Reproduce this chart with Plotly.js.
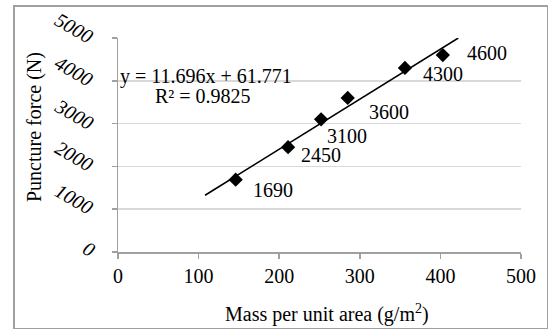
<!DOCTYPE html>
<html><head><meta charset="utf-8">
<script src="https://cdn.plot.ly/plotly-3.0.1.min.js"></script>
<style>
html,body{margin:0;padding:0;background:#fff;}
#wrap{position:relative;width:548px;height:329px;}
#chart{position:absolute;left:0;top:0;width:548px;height:329px;}
#frame{position:absolute;left:13px;top:5px;width:532px;height:321px;border:2px solid #a0a0a0;pointer-events:none;}
</style>
</head><body>
<div id="wrap"><div id="chart"></div><div id="frame"></div></div>
<script>
// Data
const massPerArea = [146, 211, 252, 285, 356, 403];
const punctureForce = [1690, 2450, 3100, 3600, 4300, 4600];
const pointLabels = ["1690", "2450", "3100", "3600", "4300", "4600"];
const trendSlope = 11.696;
const trendIntercept = 61.771;
const trendRangeX = [108, 422.2];
const equationText = "y = 11.696x + 61.771";
const r2Text = "R² = 0.9825";
const xTicks = [0, 100, 200, 300, 400, 500];
const yTicks = [0, 1000, 2000, 3000, 4000, 5000];

// label offsets (px): [right, up]
const labelShift = [[37,-10],[33,-8],[26,-17],[41,-14],[38,-6],[44,2]];

const font = "Liberation Serif, Times New Roman, serif";

const trendY = trendRangeX.map(x => trendSlope * x + trendIntercept);

const traces = [
  {x: trendRangeX, y: trendY, mode: 'lines', line: {color: '#000', width: 1.6}, hoverinfo: 'skip'},
  {x: massPerArea, y: punctureForce, mode: 'markers', marker: {symbol: 'diamond', size: 11, color: '#000'}}
];

const annotations = pointLabels.map((t, i) => ({
  x: massPerArea[i], y: punctureForce[i], text: t, showarrow: false,
  xanchor: 'center', yanchor: 'middle',
  xshift: labelShift[i][0], yshift: labelShift[i][1],
  font: {family: font, size: 20, color: '#000'}
}));
// rotated italic y tick labels
yTicks.forEach(v => {
  const s = String(v);
  const short = s.length === 1;
  annotations.push({
    xref: 'paper', yref: 'y', x: 0, y: v, text: '<i>' + s + '</i>', showarrow: false,
    xanchor: 'center', yanchor: 'middle', textangle: 30,
    xshift: short ? -29 : -44, yshift: short ? 3 : 10,
    font: {family: font, size: 20, color: '#000'}
  });
});
annotations.push({x: 109, y: 4090, text: equationText, showarrow: false, xanchor: 'center', yanchor: 'middle', font: {family: font, size: 20, color: '#000'}});
annotations.push({x: 105, y: 3645, text: r2Text, showarrow: false, xanchor: 'center', yanchor: 'middle', font: {family: font, size: 20, color: '#000'}});
annotations.push({xref: 'paper', yref: 'paper', x: (327-118)/403, y: (252-313)/214, xanchor: 'center', yanchor: 'middle', text: "Mass per unit area (g/m<sup>2</sup>)", showarrow: false, font: {family: font, size: 20, color: '#000'}});
annotations.push({xref: 'paper', yref: 'paper', x: (34-118)/403, y: (252-127)/214, xanchor: 'center', yanchor: 'middle', text: "Puncture force (N)", textangle: -90, showarrow: false, font: {family: font, size: 20, color: '#000'}});

const layout = {
  width: 548, height: 329,
  margin: {l: 118, r: 27, t: 38, b: 77},
  paper_bgcolor: 'rgba(0,0,0,0)', plot_bgcolor: '#fff',
  showlegend: false,
  xaxis: {
    range: [0, 500], tickvals: xTicks, ticktext: xTicks.map(String),
    showgrid: false, zeroline: false, showline: true, linecolor: '#a0a0a0', linewidth: 1.5,
    ticks: 'outside', ticklen: 5, tickcolor: '#a0a0a0', tickwidth: 1.5,
    tickfont: {family: font, size: 20, color: '#000'}
  },
  yaxis: {
    range: [0, 5000], tickvals: yTicks, showticklabels: false,
    showgrid: true, gridcolor: '#d9d9d9', gridwidth: 1.5,
    zeroline: false, showline: true, linecolor: '#a0a0a0', linewidth: 1.5,
    ticks: 'outside', ticklen: 5, tickcolor: '#a0a0a0', tickwidth: 1.5
  },
  annotations: annotations
};

Plotly.newPlot('chart', traces, layout, {displayModeBar: false, staticPlot: true});
</script>
</body></html>
